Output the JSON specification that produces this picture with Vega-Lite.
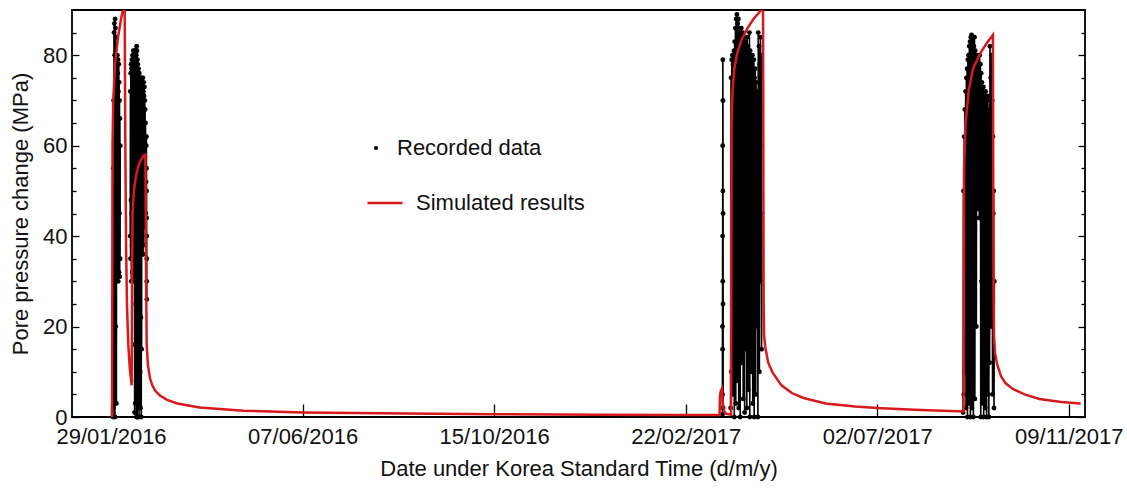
{
  "$schema": "https://vega.github.io/schema/vega-lite/v6.json",
  "width": 1013,
  "height": 407,
  "autosize": "none",
  "padding": {"left": 72, "top": 10, "right": 42, "bottom": 74},
  "background": "white",
  "config": {
    "view": {"stroke": "black", "strokeWidth": 1.8},
    "font": "Liberation Sans",
    "axis": {
      "labelFont": "Liberation Sans",
      "titleFont": "Liberation Sans",
      "labelColor": "#111111",
      "titleColor": "#111111",
      "titleFontWeight": "normal",
      "labelFontSize": 22,
      "titleFontSize": 22,
      "domain": false,
      "grid": false,
      "tickColor": "black",
      "tickWidth": 1.3
    },
    "legend": {
      "labelFont": "Liberation Sans",
      "labelFontSize": 22,
      "labelColor": "#111111",
      "labelLimit": 400,
      "padding": 0
    }
  },
  "datasets": {
    "recorded": [
      {"date": "2016-01-30T09:00Z", "pressure": 0, "burst": "A"},
      {"date": "2016-01-30T12:00Z", "pressure": 55, "burst": "A"},
      {"date": "2016-01-30T15:00Z", "pressure": 2, "burst": "A"},
      {"date": "2016-01-30T18:00Z", "pressure": 70, "burst": "A"},
      {"date": "2016-01-30T21:00Z", "pressure": 10, "burst": "A"},
      {"date": "2016-01-31T00:00Z", "pressure": 85, "burst": "A"},
      {"date": "2016-01-31T03:00Z", "pressure": 30, "burst": "A"},
      {"date": "2016-01-31T06:00Z", "pressure": 87, "burst": "A"},
      {"date": "2016-01-31T09:00Z", "pressure": 5, "burst": "A"},
      {"date": "2016-01-31T12:00Z", "pressure": 80, "burst": "A"},
      {"date": "2016-01-31T15:00Z", "pressure": 0, "burst": "A"},
      {"date": "2016-01-31T18:00Z", "pressure": 88, "burst": "A"},
      {"date": "2016-01-31T21:00Z", "pressure": 40, "burst": "A"},
      {"date": "2016-02-01T00:00Z", "pressure": 86, "burst": "A"},
      {"date": "2016-02-01T03:00Z", "pressure": 20, "burst": "A"},
      {"date": "2016-02-01T06:00Z", "pressure": 84, "burst": "A"},
      {"date": "2016-02-01T09:00Z", "pressure": 35, "burst": "A"},
      {"date": "2016-02-01T12:00Z", "pressure": 79, "burst": "A"},
      {"date": "2016-02-01T15:00Z", "pressure": 3, "burst": "A"},
      {"date": "2016-02-01T18:00Z", "pressure": 78, "burst": "A"},
      {"date": "2016-02-01T21:00Z", "pressure": 30, "burst": "A"},
      {"date": "2016-02-02T00:00Z", "pressure": 75, "burst": "A"},
      {"date": "2016-02-02T03:00Z", "pressure": 45, "burst": "A"},
      {"date": "2016-02-02T06:00Z", "pressure": 80, "burst": "A"},
      {"date": "2016-02-02T09:00Z", "pressure": 33, "burst": "A"},
      {"date": "2016-02-02T12:00Z", "pressure": 76, "burst": "A"},
      {"date": "2016-02-02T15:00Z", "pressure": 50, "burst": "A"},
      {"date": "2016-02-02T18:00Z", "pressure": 79, "burst": "A"},
      {"date": "2016-02-02T21:00Z", "pressure": 30, "burst": "A"},
      {"date": "2016-02-03T00:00Z", "pressure": 72, "burst": "A"},
      {"date": "2016-02-03T03:00Z", "pressure": 40, "burst": "A"},
      {"date": "2016-02-03T06:00Z", "pressure": 78, "burst": "A"},
      {"date": "2016-02-03T09:00Z", "pressure": 32, "burst": "A"},
      {"date": "2016-02-03T12:00Z", "pressure": 74, "burst": "A"},
      {"date": "2016-02-03T15:00Z", "pressure": 45, "burst": "A"},
      {"date": "2016-02-03T18:00Z", "pressure": 70, "burst": "A"},
      {"date": "2016-02-03T21:00Z", "pressure": 31, "burst": "A"},
      {"date": "2016-02-04T00:00Z", "pressure": 66, "burst": "A"},
      {"date": "2016-02-04T03:00Z", "pressure": 35, "burst": "A"},
      {"date": "2016-02-04T06:00Z", "pressure": 60, "burst": "A"},

      {"date": "2016-02-11T00:00Z", "pressure": 40, "burst": "B"},
      {"date": "2016-02-11T03:00Z", "pressure": 72, "burst": "B"},
      {"date": "2016-02-11T06:00Z", "pressure": 35, "burst": "B"},
      {"date": "2016-02-11T09:00Z", "pressure": 76, "burst": "B"},
      {"date": "2016-02-11T12:00Z", "pressure": 48, "burst": "B"},
      {"date": "2016-02-11T15:00Z", "pressure": 78, "burst": "B"},
      {"date": "2016-02-11T18:00Z", "pressure": 30, "burst": "B"},
      {"date": "2016-02-11T21:00Z", "pressure": 77, "burst": "B"},
      {"date": "2016-02-12T00:00Z", "pressure": 45, "burst": "B"},
      {"date": "2016-02-12T03:00Z", "pressure": 79, "burst": "B"},
      {"date": "2016-02-12T06:00Z", "pressure": 38, "burst": "B"},
      {"date": "2016-02-12T09:00Z", "pressure": 78, "burst": "B"},
      {"date": "2016-02-12T12:00Z", "pressure": 32, "burst": "B"},
      {"date": "2016-02-12T15:00Z", "pressure": 80, "burst": "B"},
      {"date": "2016-02-12T18:00Z", "pressure": 35, "burst": "B"},
      {"date": "2016-02-12T21:00Z", "pressure": 79, "burst": "B"},
      {"date": "2016-02-13T00:00Z", "pressure": 42, "burst": "B"},
      {"date": "2016-02-13T03:00Z", "pressure": 81, "burst": "B"},
      {"date": "2016-02-13T06:00Z", "pressure": 40, "burst": "B"},
      {"date": "2016-02-13T09:00Z", "pressure": 80, "burst": "B"},
      {"date": "2016-02-13T12:00Z", "pressure": 31, "burst": "B"},
      {"date": "2016-02-13T15:00Z", "pressure": 80, "burst": "B"},
      {"date": "2016-02-13T18:00Z", "pressure": 30, "burst": "B"},
      {"date": "2016-02-13T21:00Z", "pressure": 81, "burst": "B"},
      {"date": "2016-02-14T00:00Z", "pressure": 1, "burst": "B"},
      {"date": "2016-02-14T03:00Z", "pressure": 79, "burst": "B"},
      {"date": "2016-02-14T06:00Z", "pressure": 16, "burst": "B"},
      {"date": "2016-02-14T09:00Z", "pressure": 80, "burst": "B"},
      {"date": "2016-02-14T12:00Z", "pressure": 3, "burst": "B"},
      {"date": "2016-02-14T15:00Z", "pressure": 81, "burst": "B"},
      {"date": "2016-02-14T18:00Z", "pressure": 25, "burst": "B"},
      {"date": "2016-02-14T21:00Z", "pressure": 79, "burst": "B"},
      {"date": "2016-02-15T00:00Z", "pressure": 8, "burst": "B"},
      {"date": "2016-02-15T03:00Z", "pressure": 80, "burst": "B"},
      {"date": "2016-02-15T06:00Z", "pressure": 0, "burst": "B"},
      {"date": "2016-02-15T09:00Z", "pressure": 82, "burst": "B"},
      {"date": "2016-02-15T12:00Z", "pressure": 20, "burst": "B"},
      {"date": "2016-02-15T15:00Z", "pressure": 81, "burst": "B"},
      {"date": "2016-02-15T18:00Z", "pressure": 0, "burst": "B"},
      {"date": "2016-02-15T21:00Z", "pressure": 79, "burst": "B"},
      {"date": "2016-02-16T00:00Z", "pressure": 12, "burst": "B"},
      {"date": "2016-02-16T03:00Z", "pressure": 78, "burst": "B"},
      {"date": "2016-02-16T06:00Z", "pressure": 2, "burst": "B"},
      {"date": "2016-02-16T09:00Z", "pressure": 76, "burst": "B"},
      {"date": "2016-02-16T12:00Z", "pressure": 28, "burst": "B"},
      {"date": "2016-02-16T15:00Z", "pressure": 77, "burst": "B"},
      {"date": "2016-02-16T18:00Z", "pressure": 5, "burst": "B"},
      {"date": "2016-02-16T21:00Z", "pressure": 75, "burst": "B"},
      {"date": "2016-02-17T00:00Z", "pressure": 0, "burst": "B"},
      {"date": "2016-02-17T03:00Z", "pressure": 76, "burst": "B"},
      {"date": "2016-02-17T06:00Z", "pressure": 18, "burst": "B"},
      {"date": "2016-02-17T09:00Z", "pressure": 75, "burst": "B"},
      {"date": "2016-02-17T12:00Z", "pressure": 5, "burst": "B"},
      {"date": "2016-02-17T15:00Z", "pressure": 74, "burst": "B"},
      {"date": "2016-02-17T18:00Z", "pressure": 10, "burst": "B"},
      {"date": "2016-02-17T21:00Z", "pressure": 75, "burst": "B"},
      {"date": "2016-02-18T00:00Z", "pressure": 2, "burst": "B"},
      {"date": "2016-02-18T03:00Z", "pressure": 75, "burst": "B"},
      {"date": "2016-02-18T06:00Z", "pressure": 22, "burst": "B"},
      {"date": "2016-02-18T09:00Z", "pressure": 74, "burst": "B"},
      {"date": "2016-02-18T12:00Z", "pressure": 0, "burst": "B"},
      {"date": "2016-02-18T15:00Z", "pressure": 73, "burst": "B"},
      {"date": "2016-02-18T18:00Z", "pressure": 15, "burst": "B"},
      {"date": "2016-02-18T21:00Z", "pressure": 75, "burst": "B"},
      {"date": "2016-02-19T00:00Z", "pressure": 40, "burst": "B"},
      {"date": "2016-02-19T03:00Z", "pressure": 74, "burst": "B"},
      {"date": "2016-02-19T06:00Z", "pressure": 36, "burst": "B"},
      {"date": "2016-02-19T09:00Z", "pressure": 73, "burst": "B"},
      {"date": "2016-02-19T12:00Z", "pressure": 48, "burst": "B"},
      {"date": "2016-02-19T15:00Z", "pressure": 75, "burst": "B"},
      {"date": "2016-02-19T18:00Z", "pressure": 36, "burst": "B"},
      {"date": "2016-02-19T21:00Z", "pressure": 72, "burst": "B"},
      {"date": "2016-02-20T00:00Z", "pressure": 45, "burst": "B"},
      {"date": "2016-02-20T03:00Z", "pressure": 74, "burst": "B"},
      {"date": "2016-02-20T06:00Z", "pressure": 38, "burst": "B"},
      {"date": "2016-02-20T09:00Z", "pressure": 71, "burst": "B"},
      {"date": "2016-02-20T12:00Z", "pressure": 50, "burst": "B"},
      {"date": "2016-02-20T15:00Z", "pressure": 73, "burst": "B"},
      {"date": "2016-02-20T18:00Z", "pressure": 42, "burst": "B"},
      {"date": "2016-02-20T21:00Z", "pressure": 70, "burst": "B"},
      {"date": "2016-02-21T00:00Z", "pressure": 50, "burst": "B"},
      {"date": "2016-02-21T03:00Z", "pressure": 68, "burst": "B"},
      {"date": "2016-02-21T06:00Z", "pressure": 55, "burst": "B"},
      {"date": "2016-02-21T09:00Z", "pressure": 65, "burst": "B"},
      {"date": "2016-02-21T12:00Z", "pressure": 45, "burst": "B"},
      {"date": "2016-02-21T15:00Z", "pressure": 62, "burst": "B"},
      {"date": "2016-02-21T18:00Z", "pressure": 52, "burst": "B"},
      {"date": "2016-02-21T21:00Z", "pressure": 60, "burst": "B"},
      {"date": "2016-02-22T00:00Z", "pressure": 62, "burst": "B"},
      {"date": "2016-02-22T01:00Z", "pressure": 55, "burst": "B"},
      {"date": "2016-02-22T02:00Z", "pressure": 50, "burst": "B"},
      {"date": "2016-02-22T03:00Z", "pressure": 44, "burst": "B"},
      {"date": "2016-02-22T04:00Z", "pressure": 40, "burst": "B"},
      {"date": "2016-02-22T05:00Z", "pressure": 35, "burst": "B"},
      {"date": "2016-02-22T06:00Z", "pressure": 30, "burst": "B"},
      {"date": "2016-02-22T07:00Z", "pressure": 26, "burst": "B"},

      {"date": "2017-03-18T22:00Z", "pressure": 0.5, "burst": "C"},
      {"date": "2017-03-18T23:00Z", "pressure": 20, "burst": "C"},
      {"date": "2017-03-19T00:00Z", "pressure": 5, "burst": "C"},
      {"date": "2017-03-19T01:00Z", "pressure": 40, "burst": "C"},
      {"date": "2017-03-19T02:00Z", "pressure": 15, "burst": "C"},
      {"date": "2017-03-19T03:00Z", "pressure": 60, "burst": "C"},
      {"date": "2017-03-19T04:00Z", "pressure": 30, "burst": "C"},
      {"date": "2017-03-19T05:00Z", "pressure": 79, "burst": "C"},
      {"date": "2017-03-19T06:00Z", "pressure": 50, "burst": "C"},
      {"date": "2017-03-19T07:00Z", "pressure": 70, "burst": "C"},
      {"date": "2017-03-19T08:00Z", "pressure": 25, "burst": "C"},
      {"date": "2017-03-19T09:00Z", "pressure": 45, "burst": "C"},
      {"date": "2017-03-19T10:00Z", "pressure": 2, "burst": "C"},

      {"date": "2017-03-24T12:00Z", "pressure": 2, "burst": "D"},
      {"date": "2017-03-24T18:00Z", "pressure": 75, "burst": "D"},
      {"date": "2017-03-25T00:00Z", "pressure": 10, "burst": "D"},
      {"date": "2017-03-25T06:00Z", "pressure": 79, "burst": "D"},
      {"date": "2017-03-25T12:00Z", "pressure": 25, "burst": "D"},
      {"date": "2017-03-25T18:00Z", "pressure": 80, "burst": "D"},
      {"date": "2017-03-26T00:00Z", "pressure": 5, "burst": "D"},
      {"date": "2017-03-26T06:00Z", "pressure": 78, "burst": "D"},
      {"date": "2017-03-26T12:00Z", "pressure": 40, "burst": "D"},
      {"date": "2017-03-26T18:00Z", "pressure": 81, "burst": "D"},
      {"date": "2017-03-27T00:00Z", "pressure": 0, "burst": "D"},
      {"date": "2017-03-27T06:00Z", "pressure": 83, "burst": "D"},
      {"date": "2017-03-27T12:00Z", "pressure": 20, "burst": "D"},
      {"date": "2017-03-27T18:00Z", "pressure": 86, "burst": "D"},
      {"date": "2017-03-28T00:00Z", "pressure": 3, "burst": "D"},
      {"date": "2017-03-28T06:00Z", "pressure": 88, "burst": "D"},
      {"date": "2017-03-28T12:00Z", "pressure": 30, "burst": "D"},
      {"date": "2017-03-28T18:00Z", "pressure": 89, "burst": "D"},
      {"date": "2017-03-29T00:00Z", "pressure": 8, "burst": "D"},
      {"date": "2017-03-29T06:00Z", "pressure": 87, "burst": "D"},
      {"date": "2017-03-29T12:00Z", "pressure": 45, "burst": "D"},
      {"date": "2017-03-29T18:00Z", "pressure": 88, "burst": "D"},
      {"date": "2017-03-30T00:00Z", "pressure": 2, "burst": "D"},
      {"date": "2017-03-30T06:00Z", "pressure": 86, "burst": "D"},
      {"date": "2017-03-30T12:00Z", "pressure": 25, "burst": "D"},
      {"date": "2017-03-30T18:00Z", "pressure": 85, "burst": "D"},
      {"date": "2017-03-31T00:00Z", "pressure": 0, "burst": "D"},
      {"date": "2017-03-31T06:00Z", "pressure": 84, "burst": "D"},
      {"date": "2017-03-31T12:00Z", "pressure": 50, "burst": "D"},
      {"date": "2017-03-31T18:00Z", "pressure": 86, "burst": "D"},
      {"date": "2017-04-01T00:00Z", "pressure": 12, "burst": "D"},
      {"date": "2017-04-01T06:00Z", "pressure": 83, "burst": "D"},
      {"date": "2017-04-01T12:00Z", "pressure": 35, "burst": "D"},
      {"date": "2017-04-01T18:00Z", "pressure": 85, "burst": "D"},
      {"date": "2017-04-02T00:00Z", "pressure": 4, "burst": "D"},
      {"date": "2017-04-02T06:00Z", "pressure": 82, "burst": "D"},
      {"date": "2017-04-02T12:00Z", "pressure": 28, "burst": "D"},
      {"date": "2017-04-02T18:00Z", "pressure": 84, "burst": "D"},
      {"date": "2017-04-03T00:00Z", "pressure": 1, "burst": "D"},
      {"date": "2017-04-03T06:00Z", "pressure": 81, "burst": "D"},
      {"date": "2017-04-03T12:00Z", "pressure": 48, "burst": "D"},
      {"date": "2017-04-03T18:00Z", "pressure": 83, "burst": "D"},
      {"date": "2017-04-04T00:00Z", "pressure": 15, "burst": "D"},
      {"date": "2017-04-04T06:00Z", "pressure": 80, "burst": "D"},
      {"date": "2017-04-04T12:00Z", "pressure": 2, "burst": "D"},
      {"date": "2017-04-04T18:00Z", "pressure": 84, "burst": "D"},
      {"date": "2017-04-05T00:00Z", "pressure": 38, "burst": "D"},
      {"date": "2017-04-05T06:00Z", "pressure": 82, "burst": "D"},
      {"date": "2017-04-05T12:00Z", "pressure": 6, "burst": "D"},
      {"date": "2017-04-05T18:00Z", "pressure": 80, "burst": "D"},
      {"date": "2017-04-06T00:00Z", "pressure": 30, "burst": "D"},
      {"date": "2017-04-06T06:00Z", "pressure": 85, "burst": "D"},
      {"date": "2017-04-06T12:00Z", "pressure": 0, "burst": "D"},
      {"date": "2017-04-06T18:00Z", "pressure": 81, "burst": "D"},
      {"date": "2017-04-07T00:00Z", "pressure": 42, "burst": "D"},
      {"date": "2017-04-07T06:00Z", "pressure": 79, "burst": "D"},
      {"date": "2017-04-07T12:00Z", "pressure": 10, "burst": "D"},
      {"date": "2017-04-07T18:00Z", "pressure": 78, "burst": "D"},
      {"date": "2017-04-08T00:00Z", "pressure": 35, "burst": "D"},
      {"date": "2017-04-08T06:00Z", "pressure": 80, "burst": "D"},
      {"date": "2017-04-08T12:00Z", "pressure": 3, "burst": "D"},
      {"date": "2017-04-08T18:00Z", "pressure": 76, "burst": "D"},
      {"date": "2017-04-09T00:00Z", "pressure": 22, "burst": "D"},
      {"date": "2017-04-09T06:00Z", "pressure": 79, "burst": "D"},
      {"date": "2017-04-09T12:00Z", "pressure": 0, "burst": "D"},
      {"date": "2017-04-09T18:00Z", "pressure": 75, "burst": "D"},
      {"date": "2017-04-10T00:00Z", "pressure": 45, "burst": "D"},
      {"date": "2017-04-10T06:00Z", "pressure": 77, "burst": "D"},
      {"date": "2017-04-10T12:00Z", "pressure": 5, "burst": "D"},
      {"date": "2017-04-10T18:00Z", "pressure": 74, "burst": "D"},
      {"date": "2017-04-11T00:00Z", "pressure": 55, "burst": "D"},
      {"date": "2017-04-11T06:00Z", "pressure": 72, "burst": "D"},
      {"date": "2017-04-11T12:00Z", "pressure": 20, "burst": "D"},
      {"date": "2017-04-11T18:00Z", "pressure": 60, "burst": "D"},
      {"date": "2017-04-12T00:00Z", "pressure": 0, "burst": "D"},
      {"date": "2017-04-12T06:00Z", "pressure": 85, "burst": "D"},
      {"date": "2017-04-12T12:00Z", "pressure": 40, "burst": "D"},
      {"date": "2017-04-12T18:00Z", "pressure": 82, "burst": "D"},
      {"date": "2017-04-13T00:00Z", "pressure": 10, "burst": "D"},
      {"date": "2017-04-13T06:00Z", "pressure": 78, "burst": "D"},
      {"date": "2017-04-13T12:00Z", "pressure": 30, "burst": "D"},
      {"date": "2017-04-13T18:00Z", "pressure": 84, "burst": "D"},
      {"date": "2017-04-14T00:00Z", "pressure": 60, "burst": "D"},
      {"date": "2017-04-14T06:00Z", "pressure": 80, "burst": "D"},
      {"date": "2017-04-14T12:00Z", "pressure": 15, "burst": "D"},
      {"date": "2017-04-14T18:00Z", "pressure": 45, "burst": "D"},

      {"date": "2017-08-29T06:00Z", "pressure": 1, "burst": "E"},
      {"date": "2017-08-29T12:00Z", "pressure": 50, "burst": "E"},
      {"date": "2017-08-29T18:00Z", "pressure": 5, "burst": "E"},
      {"date": "2017-08-30T00:00Z", "pressure": 62, "burst": "E"},
      {"date": "2017-08-30T06:00Z", "pressure": 10, "burst": "E"},
      {"date": "2017-08-30T12:00Z", "pressure": 68, "burst": "E"},
      {"date": "2017-08-30T18:00Z", "pressure": 20, "burst": "E"},
      {"date": "2017-08-31T00:00Z", "pressure": 72, "burst": "E"},
      {"date": "2017-08-31T06:00Z", "pressure": 2, "burst": "E"},
      {"date": "2017-08-31T12:00Z", "pressure": 75, "burst": "E"},
      {"date": "2017-08-31T18:00Z", "pressure": 30, "burst": "E"},
      {"date": "2017-09-01T00:00Z", "pressure": 77, "burst": "E"},
      {"date": "2017-09-01T06:00Z", "pressure": 0, "burst": "E"},
      {"date": "2017-09-01T12:00Z", "pressure": 79, "burst": "E"},
      {"date": "2017-09-01T18:00Z", "pressure": 25, "burst": "E"},
      {"date": "2017-09-02T00:00Z", "pressure": 80, "burst": "E"},
      {"date": "2017-09-02T06:00Z", "pressure": 3, "burst": "E"},
      {"date": "2017-09-02T12:00Z", "pressure": 82, "burst": "E"},
      {"date": "2017-09-02T18:00Z", "pressure": 40, "burst": "E"},
      {"date": "2017-09-03T00:00Z", "pressure": 83, "burst": "E"},
      {"date": "2017-09-03T06:00Z", "pressure": 0, "burst": "E"},
      {"date": "2017-09-03T12:00Z", "pressure": 84, "burst": "E"},
      {"date": "2017-09-03T18:00Z", "pressure": 18, "burst": "E"},
      {"date": "2017-09-04T00:00Z", "pressure": 84.5, "burst": "E"},
      {"date": "2017-09-04T06:00Z", "pressure": 2, "burst": "E"},
      {"date": "2017-09-04T12:00Z", "pressure": 83, "burst": "E"},
      {"date": "2017-09-04T18:00Z", "pressure": 35, "burst": "E"},
      {"date": "2017-09-05T00:00Z", "pressure": 84, "burst": "E"},
      {"date": "2017-09-05T06:00Z", "pressure": 0, "burst": "E"},
      {"date": "2017-09-05T12:00Z", "pressure": 82, "burst": "E"},
      {"date": "2017-09-05T18:00Z", "pressure": 22, "burst": "E"},
      {"date": "2017-09-06T00:00Z", "pressure": 84, "burst": "E"},
      {"date": "2017-09-06T06:00Z", "pressure": 4, "burst": "E"},
      {"date": "2017-09-06T12:00Z", "pressure": 81, "burst": "E"},
      {"date": "2017-09-06T18:00Z", "pressure": 44, "burst": "E"},
      {"date": "2017-09-07T00:00Z", "pressure": 79, "burst": "E"},
      {"date": "2017-09-07T06:00Z", "pressure": 20, "burst": "E"},
      {"date": "2017-09-07T12:00Z", "pressure": 80, "burst": "E"},
      {"date": "2017-09-07T18:00Z", "pressure": 50, "burst": "E"},
      {"date": "2017-09-08T00:00Z", "pressure": 78, "burst": "E"},
      {"date": "2017-09-08T06:00Z", "pressure": 46, "burst": "E"},
      {"date": "2017-09-08T12:00Z", "pressure": 80, "burst": "E"},
      {"date": "2017-09-08T18:00Z", "pressure": 48, "burst": "E"},
      {"date": "2017-09-09T00:00Z", "pressure": 78, "burst": "E"},
      {"date": "2017-09-09T06:00Z", "pressure": 44, "burst": "E"},
      {"date": "2017-09-09T12:00Z", "pressure": 80, "burst": "E"},
      {"date": "2017-09-09T18:00Z", "pressure": 47, "burst": "E"},
      {"date": "2017-09-10T00:00Z", "pressure": 78, "burst": "E"},
      {"date": "2017-09-10T06:00Z", "pressure": 0, "burst": "E"},
      {"date": "2017-09-10T12:00Z", "pressure": 76, "burst": "E"},
      {"date": "2017-09-10T18:00Z", "pressure": 30, "burst": "E"},
      {"date": "2017-09-11T00:00Z", "pressure": 74, "burst": "E"},
      {"date": "2017-09-11T06:00Z", "pressure": 3, "burst": "E"},
      {"date": "2017-09-11T12:00Z", "pressure": 72, "burst": "E"},
      {"date": "2017-09-11T18:00Z", "pressure": 15, "burst": "E"},
      {"date": "2017-09-12T00:00Z", "pressure": 73, "burst": "E"},
      {"date": "2017-09-12T06:00Z", "pressure": 0, "burst": "E"},
      {"date": "2017-09-12T12:00Z", "pressure": 71, "burst": "E"},
      {"date": "2017-09-12T18:00Z", "pressure": 25, "burst": "E"},
      {"date": "2017-09-13T00:00Z", "pressure": 70, "burst": "E"},
      {"date": "2017-09-13T06:00Z", "pressure": 2, "burst": "E"},
      {"date": "2017-09-13T12:00Z", "pressure": 72, "burst": "E"},
      {"date": "2017-09-13T18:00Z", "pressure": 10, "burst": "E"},
      {"date": "2017-09-14T00:00Z", "pressure": 69, "burst": "E"},
      {"date": "2017-09-14T06:00Z", "pressure": 0, "burst": "E"},
      {"date": "2017-09-14T12:00Z", "pressure": 70, "burst": "E"},
      {"date": "2017-09-14T18:00Z", "pressure": 35, "burst": "E"},
      {"date": "2017-09-15T00:00Z", "pressure": 71, "burst": "E"},
      {"date": "2017-09-15T06:00Z", "pressure": 5, "burst": "E"},
      {"date": "2017-09-15T12:00Z", "pressure": 68, "burst": "E"},
      {"date": "2017-09-15T18:00Z", "pressure": 0, "burst": "E"},
      {"date": "2017-09-16T00:00Z", "pressure": 65, "burst": "E"},
      {"date": "2017-09-16T06:00Z", "pressure": 12, "burst": "E"},
      {"date": "2017-09-16T12:00Z", "pressure": 82, "burst": "E"},
      {"date": "2017-09-16T18:00Z", "pressure": 40, "burst": "E"},
      {"date": "2017-09-17T00:00Z", "pressure": 75, "burst": "E"},
      {"date": "2017-09-17T06:00Z", "pressure": 20, "burst": "E"},
      {"date": "2017-09-17T12:00Z", "pressure": 80, "burst": "E"},
      {"date": "2017-09-17T18:00Z", "pressure": 30, "burst": "E"},
      {"date": "2017-09-18T00:00Z", "pressure": 70, "burst": "E"},
      {"date": "2017-09-18T06:00Z", "pressure": 5, "burst": "E"},
      {"date": "2017-09-18T12:00Z", "pressure": 62, "burst": "E"},
      {"date": "2017-09-18T18:00Z", "pressure": 45, "burst": "E"},
      {"date": "2017-09-19T00:00Z", "pressure": 50, "burst": "E"},
      {"date": "2017-09-19T06:00Z", "pressure": 2, "burst": "E"},
      {"date": "2017-09-19T12:00Z", "pressure": 30, "burst": "E"}
    ],
    "simulated": [
      {"date": "2016-01-29T16:48Z", "pressure": 0},
      {"date": "2016-01-30T00:00Z", "pressure": 60},
      {"date": "2016-01-30T12:00Z", "pressure": 70},
      {"date": "2016-01-31T16:48Z", "pressure": 78},
      {"date": "2016-02-02T18:00Z", "pressure": 84},
      {"date": "2016-02-04T19:12Z", "pressure": 88},
      {"date": "2016-02-06T00:00Z", "pressure": 90},
      {"date": "2016-02-07T04:48Z", "pressure": 93},
      {"date": "2016-02-07T16:48Z", "pressure": 60},
      {"date": "2016-02-08T04:48Z", "pressure": 38},
      {"date": "2016-02-08T19:12Z", "pressure": 25},
      {"date": "2016-02-09T16:48Z", "pressure": 16},
      {"date": "2016-02-10T19:12Z", "pressure": 10.5},
      {"date": "2016-02-12T00:00Z", "pressure": 7},
      {"date": "2016-02-12T07:12Z", "pressure": 30},
      {"date": "2016-02-12T14:24Z", "pressure": 45},
      {"date": "2016-02-13T12:00Z", "pressure": 50},
      {"date": "2016-02-15T00:00Z", "pressure": 53.5},
      {"date": "2016-02-17T00:00Z", "pressure": 56},
      {"date": "2016-02-20T00:00Z", "pressure": 57.8},
      {"date": "2016-02-21T07:12Z", "pressure": 58},
      {"date": "2016-02-21T19:12Z", "pressure": 30},
      {"date": "2016-02-22T04:48Z", "pressure": 16},
      {"date": "2016-02-23T00:00Z", "pressure": 11.5},
      {"date": "2016-02-24T12:00Z", "pressure": 8.5},
      {"date": "2016-02-26T00:00Z", "pressure": 7},
      {"date": "2016-02-28T00:00Z", "pressure": 5.8},
      {"date": "2016-03-02T00:00Z", "pressure": 4.8},
      {"date": "2016-03-07T00:00Z", "pressure": 3.8},
      {"date": "2016-03-14T00:00Z", "pressure": 3.0},
      {"date": "2016-03-29T00:00Z", "pressure": 2.1},
      {"date": "2016-04-28T00:00Z", "pressure": 1.4},
      {"date": "2016-06-07T00:00Z", "pressure": 1.0},
      {"date": "2016-08-16T00:00Z", "pressure": 0.75},
      {"date": "2016-10-15T00:00Z", "pressure": 0.6},
      {"date": "2016-12-24T00:00Z", "pressure": 0.5},
      {"date": "2017-02-17T00:00Z", "pressure": 0.45},
      {"date": "2017-03-17T00:00Z", "pressure": 0.45},
      {"date": "2017-03-17T04:48Z", "pressure": 4.5},
      {"date": "2017-03-17T19:12Z", "pressure": 5.8},
      {"date": "2017-03-18T14:24Z", "pressure": 6.3},
      {"date": "2017-03-19T04:48Z", "pressure": 3},
      {"date": "2017-03-20T00:00Z", "pressure": 1.3},
      {"date": "2017-03-21T12:00Z", "pressure": 0.7},
      {"date": "2017-03-24T19:12Z", "pressure": 0.5},
      {"date": "2017-03-25T02:24Z", "pressure": 65},
      {"date": "2017-03-25T19:12Z", "pressure": 72},
      {"date": "2017-03-27T00:00Z", "pressure": 77},
      {"date": "2017-03-29T00:00Z", "pressure": 80.5},
      {"date": "2017-04-01T00:00Z", "pressure": 83.5},
      {"date": "2017-04-05T00:00Z", "pressure": 86},
      {"date": "2017-04-09T00:00Z", "pressure": 88},
      {"date": "2017-04-13T00:00Z", "pressure": 89.5},
      {"date": "2017-04-15T12:00Z", "pressure": 90.5},
      {"date": "2017-04-15T21:36Z", "pressure": 25},
      {"date": "2017-04-16T04:48Z", "pressure": 18},
      {"date": "2017-04-17T00:00Z", "pressure": 15.5},
      {"date": "2017-04-19T00:00Z", "pressure": 12},
      {"date": "2017-04-22T00:00Z", "pressure": 9.8},
      {"date": "2017-04-28T00:00Z", "pressure": 7},
      {"date": "2017-05-05T00:00Z", "pressure": 5.3},
      {"date": "2017-05-13T00:00Z", "pressure": 4.2},
      {"date": "2017-05-28T00:00Z", "pressure": 3.0},
      {"date": "2017-06-17T00:00Z", "pressure": 2.3},
      {"date": "2017-07-02T00:00Z", "pressure": 2.0},
      {"date": "2017-07-27T00:00Z", "pressure": 1.6},
      {"date": "2017-08-29T14:24Z", "pressure": 1.2},
      {"date": "2017-08-29T21:36Z", "pressure": 55},
      {"date": "2017-08-31T00:00Z", "pressure": 65},
      {"date": "2017-09-02T00:00Z", "pressure": 72},
      {"date": "2017-09-05T00:00Z", "pressure": 77},
      {"date": "2017-09-10T00:00Z", "pressure": 80.5},
      {"date": "2017-09-15T00:00Z", "pressure": 83},
      {"date": "2017-09-18T12:00Z", "pressure": 84.5},
      {"date": "2017-09-18T21:36Z", "pressure": 30},
      {"date": "2017-09-19T04:48Z", "pressure": 18},
      {"date": "2017-09-20T00:00Z", "pressure": 14},
      {"date": "2017-09-21T12:00Z", "pressure": 11.5},
      {"date": "2017-09-24T00:00Z", "pressure": 9},
      {"date": "2017-09-27T00:00Z", "pressure": 7.5},
      {"date": "2017-10-02T00:00Z", "pressure": 6.2},
      {"date": "2017-10-10T00:00Z", "pressure": 5},
      {"date": "2017-10-20T00:00Z", "pressure": 4},
      {"date": "2017-11-04T00:00Z", "pressure": 3.3},
      {"date": "2017-11-17T00:00Z", "pressure": 3.0}
    ]
  },
  "layer": [
    {
      "data": {"name": "recorded"},
      "mark": {"type": "line", "color": "black", "strokeWidth": 1.6},
      "encoding": {
        "x": {
          "field": "date",
          "type": "temporal",
          "scale": {
            "type": "utc",
            "domain": [
              {"year": 2016, "month": 1, "date": 2, "hours": 12, "utc": true},
              {"year": 2017, "month": 11, "date": 20, "utc": true}
            ]
          },
          "axis": {
            "values": [
              {"year": 2016, "month": 1, "date": 29, "utc": true},
              {"year": 2016, "month": 6, "date": 7, "utc": true},
              {"year": 2016, "month": 10, "date": 15, "utc": true},
              {"year": 2017, "month": 2, "date": 22, "utc": true},
              {"year": 2017, "month": 7, "date": 2, "utc": true},
              {"year": 2017, "month": 11, "date": 9, "utc": true}
            ],
            "format": "%d/%m/%Y",
            "tickSize": -13,
            "labelPadding": 22,
            "labelFlush": false,
            "labelOverlap": false,
            "title": "Date under Korea Standard Time (d/m/y)",
            "titlePadding": 11
          }
        },
        "y": {
          "field": "pressure",
          "type": "quantitative",
          "scale": {"domain": [0, 90], "nice": false, "zero": true},
          "axis": {
            "orient": "left",
            "values": [0, 5, 10, 15, 20, 25, 30, 35, 40, 45, 50, 55, 60, 65, 70, 75, 80, 85],
            "labelExpr": "datum.value % 20 === 0 ? datum.label : ''",
            "tickSize": {"condition": {"test": "datum.value % 20 === 0", "value": -7}, "value": -4},
            "labelPadding": 12,
            "title": "Pore pressure change (MPa)",
            "titlePadding": 10
          }
        },
        "detail": {"field": "burst"}
      }
    },
    {
      "data": {"name": "recorded"},
      "mark": {"type": "point", "filled": true, "size": 24, "opacity": 1},
      "encoding": {
        "x": {"field": "date", "type": "temporal"},
        "y": {"field": "pressure", "type": "quantitative", "axis": null},
        "color": {
          "datum": "Recorded data",
          "scale": {"range": ["black"]},
          "legend": {
            "orient": "none",
            "legendX": 293,
            "legendY": 127,
            "title": null,
            "labelOffset": 10,
            "symbolSize": 18,
            "symbolType": "circle"
          }
        }
      }
    },
    {
      "data": {"name": "simulated"},
      "mark": {"type": "line", "strokeWidth": 2.5, "clip": true},
      "encoding": {
        "x": {"field": "date", "type": "temporal"},
        "y": {
          "field": "pressure",
          "type": "quantitative",
          "axis": {
            "orient": "right",
            "values": [0, 5, 10, 15, 20, 25, 30, 35, 40, 45, 50, 55, 60, 65, 70, 75, 80, 85],
            "labels": false,
            "tickSize": {"condition": {"test": "datum.value % 20 === 0", "value": -7}, "value": -4},
            "title": null
          }
        },
        "color": {
          "datum": "Simulated results",
          "scale": {"range": ["#d7191c"]},
          "legend": {
            "orient": "none",
            "legendX": 294,
            "legendY": 174,
            "title": null,
            "labelOffset": 12,
            "symbolSize": 1225,
            "symbolType": "stroke",
            "symbolStrokeWidth": 2.5
          }
        }
      }
    }
  ],
  "resolve": {"scale": {"color": "independent"}, "axis": {"y": "independent"}}
}
